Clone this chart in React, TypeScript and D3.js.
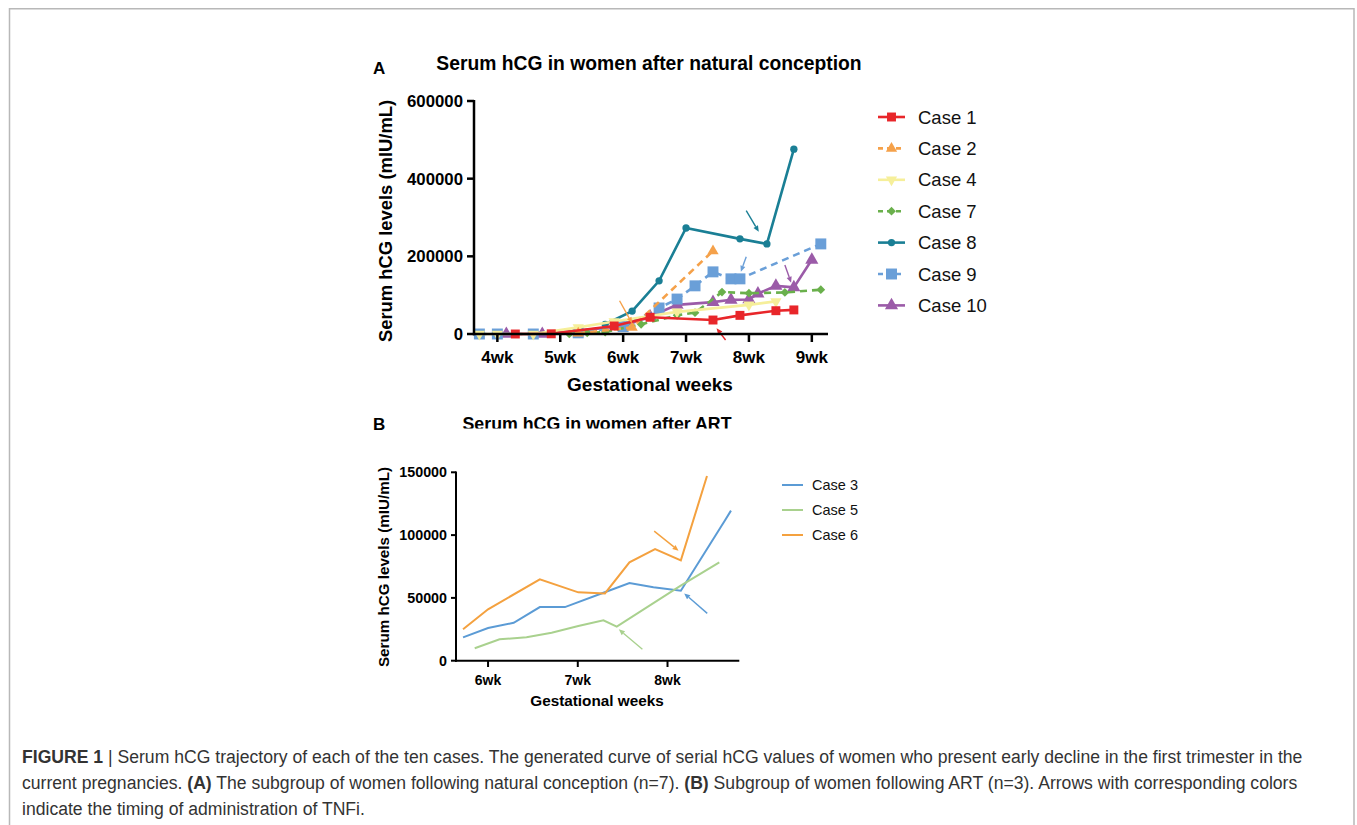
import React from "react";
import * as d3 from "d3";

// ---------- Panel A data (days of gestation, hCG mIU/mL) ----------
const weekTicksA = [28, 35, 42, 49, 56, 63];
const weekLabelsA = ["4wk", "5wk", "6wk", "7wk", "8wk", "9wk"];
const yTicksA = [0, 200000, 400000, 600000];

const case1Days = [30, 34, 41, 45, 52, 55, 59, 61];
const case1Vals = [0, 500, 20600, 43000, 36000, 48000, 60000, 62000];
const case2Days = [37, 43, 52];
const case2Vals = [2000, 17000, 214000];
const case4Days = [26, 28, 32, 37, 41, 48, 56, 59];
const case4Vals = [0, 0, 0, 17000, 32000, 57000, 75000, 84000];
const case7Days = [36, 38, 40, 44, 48, 50, 53, 56, 60, 64];
const case7Vals = [0, 3000, 5000, 25000, 48000, 55000, 108000, 105000, 107000, 114000];
const case8Days = [40, 43, 46, 49, 55, 58, 61];
const case8Vals = [25000, 59000, 137000, 273000, 245000, 232000, 476000];
const case9Days = [26, 28, 32, 37, 42, 46, 48, 50, 52, 54, 55, 64];
const case9Vals = [0, 0, 0, 3000, 19000, 67000, 90000, 124000, 160000, 142000, 142000, 232000];
const case10Days = [29, 33, 42, 45, 48, 52, 54, 56, 57, 59, 61, 63];
const case10Vals = [0, 0, 20000, 45000, 75000, 82000, 88000, 89000, 104000, 124000, 120000, 191000];

// TNFi administration arrows (from day/value to day/value)
const arrowsA = [
  { color: "#f5a14a", from: [41.6, 85700], to: [43.0, 27500] },
  { color: "#1a7f95", from: [55.7, 317500], to: [57.1, 263400] },
  { color: "#6a9fd8", from: [55.7, 199000], to: [55.1, 160400] },
  { color: "#9b5ba8", from: [60.0, 177700], to: [60.7, 132100] },
  { color: "#e8262a", from: [53.4, -15450], to: [52.4, 14700] },
];

// ---------- Panel B data ----------
const weekTicksB = [42, 49, 56];
const weekLabelsB = ["6wk", "7wk", "8wk"];
const yTicksB = [0, 50000, 100000, 150000];

const case3Days = [40.05, 42, 44, 46.04, 48, 51, 53.03, 54.9, 57.04, 60.5, 60.95];
const case3Vals = [18600, 26000, 30200, 42700, 42700, 54100, 61800, 58400, 55700, 112000, 119500];
const case5Days = [40.96, 42.9, 45, 46.96, 49.04, 51, 52.04, 57, 60.04];
const case5Vals = [9900, 17000, 18600, 22300, 27600, 32200, 27100, 59500, 78300];
const case6Days = [40.05, 42, 46.04, 49.04, 51.12, 53.03, 55.03, 57.04, 59.08];
const case6Vals = [25000, 40900, 64800, 54400, 53600, 78300, 88900, 79900, 147000];

const arrowsB = [
  { color: "#f4a13f", from: [54.96, 103200], to: [56.86, 87600] },
  { color: "#5b9bd5", from: [59.1, 37700], to: [57.3, 53600] },
  { color: "#a9d18e", from: [54.04, 9100], to: [52.2, 25000] },
];

const FONT = "'Liberation Sans', Arial, Helvetica, sans-serif";

type Series = {
  name: string;
  days: number[];
  vals: number[];
  color: string;
  dash?: string;
  symbol: d3.SymbolType;
  size: number;
  rotate?: number;
};

const seriesA: Series[] = [
  { name: "Case 1", days: case1Days, vals: case1Vals, color: "#e8262a", symbol: d3.symbolSquare, size: 80 },
  { name: "Case 2", days: case2Days, vals: case2Vals, color: "#f5a14a", dash: "7,5", symbol: d3.symbolTriangle, size: 55 },
  { name: "Case 4", days: case4Days, vals: case4Vals, color: "#f6ef9a", symbol: d3.symbolTriangle, size: 55, rotate: 180 },
  { name: "Case 7", days: case7Days, vals: case7Vals, color: "#6ab04c", dash: "7,5", symbol: d3.symbolSquare, size: 38, rotate: 45 },
  { name: "Case 8", days: case8Days, vals: case8Vals, color: "#1a7f95", symbol: d3.symbolCircle, size: 42 },
  { name: "Case 9", days: case9Days, vals: case9Vals, color: "#6a9fd8", dash: "7,5", symbol: d3.symbolSquare, size: 120 },
  { name: "Case 10", days: case10Days, vals: case10Vals, color: "#9b5ba8", symbol: d3.symbolTriangle, size: 75 },
];

const seriesB = [
  { name: "Case 3", days: case3Days, vals: case3Vals, color: "#5b9bd5" },
  { name: "Case 5", days: case5Days, vals: case5Vals, color: "#a9d18e" },
  { name: "Case 6", days: case6Days, vals: case6Vals, color: "#f4a13f" },
];

function Arrow({ x1, y1, x2, y2, color }: { x1: number; y1: number; x2: number; y2: number; color: string }) {
  const ang = Math.atan2(y2 - y1, x2 - x1);
  const L = 6;
  const W = 2.6;
  const bx = x2 - L * Math.cos(ang);
  const by = y2 - L * Math.sin(ang);
  const p1 = [bx + W * Math.sin(ang), by - W * Math.cos(ang)];
  const p2 = [bx - W * Math.sin(ang), by + W * Math.cos(ang)];
  return (
    <g>
      <line x1={x1} y1={y1} x2={bx} y2={by} stroke={color} strokeWidth={1.4} />
      <polygon points={`${x2},${y2} ${p1[0]},${p1[1]} ${p2[0]},${p2[1]}`} fill={color} />
    </g>
  );
}

function PanelA() {
  const x = d3.scaleLinear().domain([25.4, 64.8]).range([474, 828]);
  const y = d3.scaleLinear().domain([0, 600000]).range([334, 101]);
  const line = d3.line<[number, number]>().x((d) => x(d[0])).y((d) => y(d[1]));
  const drawOrder = [...seriesA].reverse();
  return (
    <g fontFamily={FONT}>
      <text x={373} y={74} fontSize={17} fontWeight="bold">A</text>
      <text x={649} y={70} fontSize={19.3} fontWeight="bold" textAnchor="middle">
        Serum hCG in women after natural conception
      </text>
      {/* data */}
      {drawOrder.map((s) => {
        const pts = s.days.map((d, i) => [d, s.vals[i]] as [number, number]);
        const sym = d3.symbol().type(s.symbol).size(s.size)();
        return (
          <g key={s.name}>
            <path d={line(pts) || ""} fill="none" stroke={s.color} strokeWidth={2.6} strokeDasharray={s.dash} />
            {pts.map((p, i) => (
              <path
                key={i}
                d={sym || ""}
                fill={s.color}
                transform={`translate(${x(p[0])},${y(p[1])}) rotate(${s.rotate || 0})`}
              />
            ))}
          </g>
        );
      })}
      {arrowsA.map((a, i) => (
        <Arrow key={i} x1={x(a.from[0])} y1={y(a.from[1])} x2={x(a.to[0])} y2={y(a.to[1])} color={a.color} />
      ))}
      {/* axes */}
      <line x1={474} y1={100} x2={474} y2={335.2} stroke="#000" strokeWidth={2.5} />
      <line x1={472.8} y1={334} x2={828} y2={334} stroke="#000" strokeWidth={2.5} />
      {yTicksA.map((t) => (
        <g key={t}>
          <line x1={467} x2={474} y1={y(t)} y2={y(t)} stroke="#000" strokeWidth={2.5} />
          <text x={463} y={y(t)} dy="0.36em" textAnchor="end" fontSize={16.8} fontWeight="bold">
            {t}
          </text>
        </g>
      ))}
      {weekTicksA.map((t, i) => (
        <g key={t}>
          <line x1={x(t)} x2={x(t)} y1={334} y2={342} stroke="#000" strokeWidth={2.5} />
          <text x={x(t)} y={363} textAnchor="middle" fontSize={17} fontWeight="bold">
            {weekLabelsA[i]}
          </text>
        </g>
      ))}
      <text x={650} y={391} textAnchor="middle" fontSize={19} fontWeight="bold">Gestational weeks</text>
      <text
        transform="translate(392,221) rotate(-90)"
        textAnchor="middle"
        fontSize={18.4}
        fontWeight="bold"
      >
        Serum hCG levels (mIU/mL)
      </text>
      {/* legend */}
      {seriesA.map((s, i) => {
        const ly = 117 + i * 31.4;
        const sym = d3.symbol().type(s.symbol).size(s.size)();
        return (
          <g key={s.name}>
            <line x1={878} x2={905} y1={ly} y2={ly} stroke={s.color} strokeWidth={2.6} strokeDasharray={s.dash ? "5,4" : undefined} />
            <path d={sym || ""} fill={s.color} transform={`translate(891.5,${ly}) rotate(${s.rotate || 0})`} />
            <text x={918} y={ly} dy="0.36em" fontSize={18.5} fill="#111">{s.name}</text>
          </g>
        );
      })}
    </g>
  );
}

function PanelB() {
  const x = d3.scaleLinear().domain([39.5, 61.6]).range([456, 739.3]);
  const y = d3.scaleLinear().domain([0, 150000]).range([660.7, 472.3]);
  const line = d3.line<[number, number]>().x((d) => x(d[0])).y((d) => y(d[1]));
  return (
    <g fontFamily={FONT}>
      <defs>
        <clipPath id="titleClipB">
          <rect x={400} y={400} width={400} height={28.5} />
        </clipPath>
      </defs>
      <text x={373} y={430} fontSize={17} fontWeight="bold">B</text>
      <g clipPath="url(#titleClipB)">
        <text x={597} y={430} fontSize={17.8} fontWeight="bold" textAnchor="middle">
          Serum hCG in women after ART
        </text>
      </g>
      {seriesB.map((s) => {
        const pts = s.days.map((d, i) => [d, s.vals[i]] as [number, number]);
        return <path key={s.name} d={line(pts) || ""} fill="none" stroke={s.color} strokeWidth={2} />;
      })}
      {arrowsB.map((a, i) => (
        <Arrow key={i} x1={x(a.from[0])} y1={y(a.from[1])} x2={x(a.to[0])} y2={y(a.to[1])} color={a.color} />
      ))}
      <line x1={456} y1={471.5} x2={456} y2={661.7} stroke="#000" strokeWidth={2} />
      <line x1={455} y1={660.7} x2={739.3} y2={660.7} stroke="#000" strokeWidth={2} />
      {yTicksB.map((t) => (
        <g key={t}>
          <line x1={451} x2={456} y1={y(t)} y2={y(t)} stroke="#000" strokeWidth={2} />
          <text x={447} y={y(t)} dy="0.36em" textAnchor="end" fontSize={14.3} fontWeight="bold">
            {t}
          </text>
        </g>
      ))}
      {weekTicksB.map((t, i) => (
        <g key={t}>
          <line x1={x(t)} x2={x(t)} y1={660.7} y2={667} stroke="#000" strokeWidth={2} />
          <text x={x(t)} y={685} textAnchor="middle" fontSize={14} fontWeight="bold">
            {weekLabelsB[i]}
          </text>
        </g>
      ))}
      <text x={597} y={706} textAnchor="middle" fontSize={15.3} fontWeight="bold">Gestational weeks</text>
      <text transform="translate(389,567) rotate(-90)" textAnchor="middle" fontSize={15.2} fontWeight="bold">
        Serum hCG levels (mIU/mL)
      </text>
      {seriesB.map((s, i) => {
        const ly = 485 + i * 25;
        return (
          <g key={s.name}>
            <line x1={782} x2={803} y1={ly} y2={ly} stroke={s.color} strokeWidth={2} />
            <text x={812} y={ly} dy="0.36em" fontSize={14.5} fill="#111">{s.name}</text>
          </g>
        );
      })}
    </g>
  );
}

function Caption() {
  const style = { fontFamily: FONT, fontSize: 17.6, fill: "#333" };
  return (
    <g style={style as any}>
      <text x={22} y={763}>
        <tspan fontWeight="bold">FIGURE 1</tspan>
        <tspan> | Serum hCG trajectory of each of the ten cases. The generated curve of serial hCG values of women who present early decline in the first trimester in the</tspan>
      </text>
      <text x={22} y={789}>
        <tspan>current pregnancies. </tspan>
        <tspan fontWeight="bold">(A)</tspan>
        <tspan> The subgroup of women following natural conception (n=7). </tspan>
        <tspan fontWeight="bold">(B)</tspan>
        <tspan> Subgroup of women following ART (n=3). Arrows with corresponding colors</tspan>
      </text>
      <text x={22} y={815}>indicate the timing of administration of TNFi.</text>
    </g>
  );
}

export default function App() {
  return (
    <svg
      width={1357}
      height={825}
      viewBox="0 0 1357 825"
      style={{ position: "absolute", left: 0, top: 0, background: "#fff", display: "block" }}
    >
      <rect x={0} y={0} width={1357} height={825} fill="#fff" />
      <path d="M9.5,825 L9.5,8.7 L1354,8.7 L1354,825" fill="none" stroke="#b8b8b8" strokeWidth={1.5} />
      <PanelA />
      <PanelB />
      <Caption />
    </svg>
  );
}
